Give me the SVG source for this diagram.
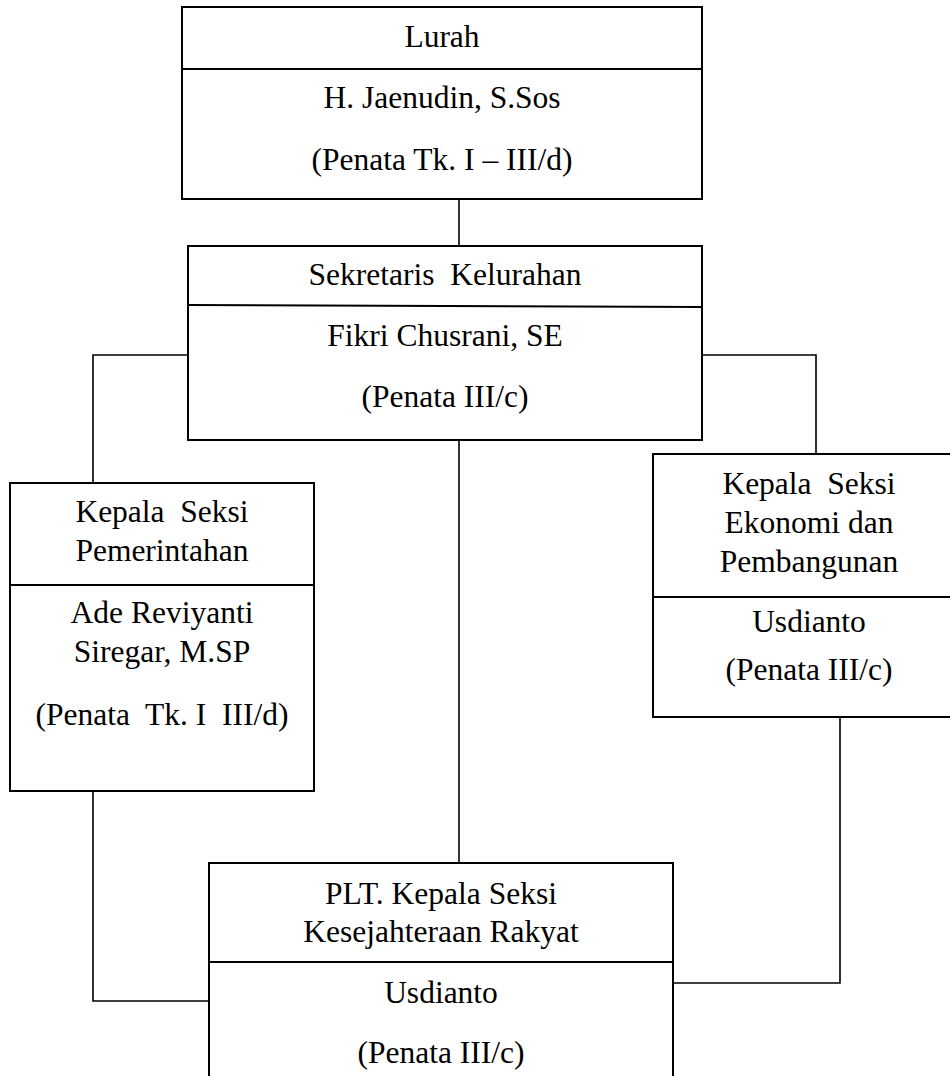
<svg xmlns="http://www.w3.org/2000/svg" width="950" height="1076" viewBox="0 0 950 1076" xml:space="preserve">
<style>
.box{fill:#fff;stroke:#000;stroke-width:2}
.div{stroke:#000;stroke-width:2}
.con{fill:none;stroke:#000;stroke-width:1.6}
text{font-family:"Liberation Serif","Times New Roman",serif;font-size:31.5px;fill:#000;text-anchor:middle;white-space:pre}
</style>
<rect width="950" height="1076" fill="#fff"/>
<g id="connectors">
<line class="con" x1="459" y1="199" x2="459" y2="246"/>
<polyline class="con" points="188,355 93,355 93,483"/>
<polyline class="con" points="702,355 816,355 816,454"/>
<line class="con" x1="459" y1="440" x2="459" y2="863"/>
<polyline class="con" points="93,791 93,1001 209,1001"/>
<polyline class="con" points="840,717 840,983 673,983"/>
</g>
<g id="lurah">
<rect class="box" x="182" y="7" width="520" height="192"/>
<line class="div" x1="182" y1="69" x2="702" y2="69"/>
<text x="442" y="47">Lurah</text>
<text x="442" y="108">H. Jaenudin, S.Sos</text>
<text x="442" y="170">(Penata Tk. I – III/d)</text>
</g>
<g id="sekretaris">
<rect class="box" x="188" y="246" width="514" height="194"/>
<line class="div" x1="188" y1="305" x2="702" y2="307"/>
<text x="445" y="285">Sekretaris  Kelurahan</text>
<text x="445" y="346">Fikri Chusrani, SE</text>
<text x="445" y="407">(Penata III/c)</text>
</g>
<g id="pemerintahan">
<rect class="box" x="10" y="483" width="304" height="308"/>
<line class="div" x1="10" y1="585" x2="314" y2="585"/>
<text x="162" y="522">Kepala  Seksi</text>
<text x="162" y="561">Pemerintahan</text>
<text x="162" y="623">Ade Reviyanti</text>
<text x="162" y="662">Siregar, M.SP</text>
<text x="162" y="725">(Penata  Tk. I  III/d)</text>
</g>
<g id="ekonomi">
<rect class="box" x="653" y="454" width="312" height="263"/>
<line class="div" x1="653" y1="597" x2="965" y2="597"/>
<text x="809" y="494">Kepala  Seksi</text>
<text x="809" y="533">Ekonomi dan</text>
<text x="809" y="572">Pembangunan</text>
<text x="809" y="632">Usdianto</text>
<text x="809" y="680">(Penata III/c)</text>
</g>
<g id="kesra">
<rect class="box" x="209" y="863" width="464" height="230"/>
<line class="div" x1="209" y1="962" x2="673" y2="962"/>
<text x="441" y="904">PLT. Kepala Seksi</text>
<text x="441" y="942">Kesejahteraan Rakyat</text>
<text x="441" y="1003">Usdianto</text>
<text x="441" y="1063">(Penata III/c)</text>
</g>
</svg>
